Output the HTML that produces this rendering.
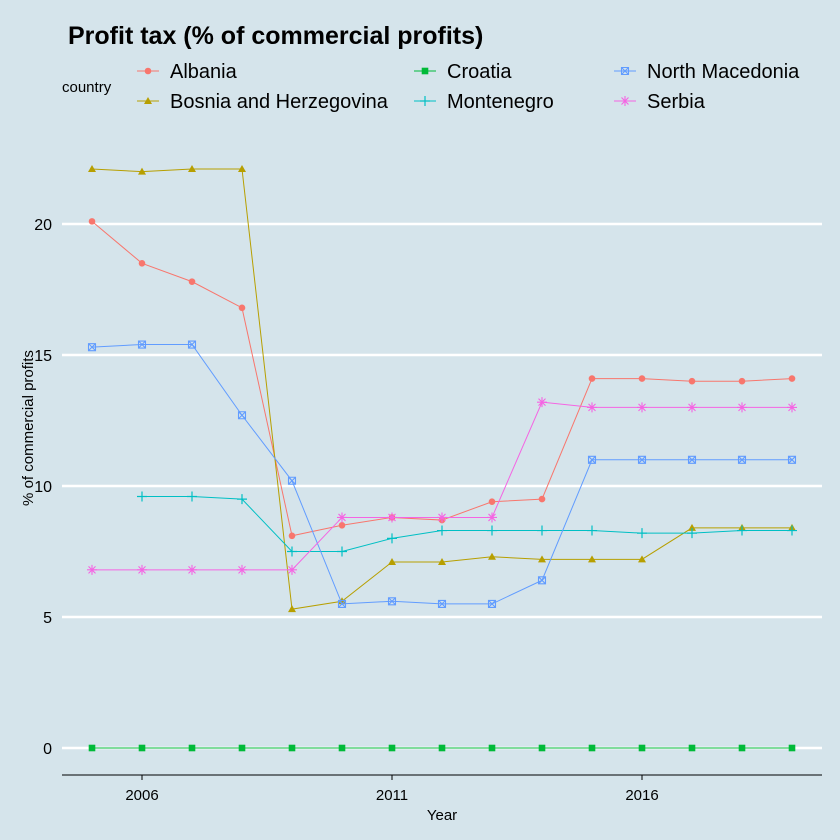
<!DOCTYPE html>
<html><head><meta charset="utf-8"><style>
body{margin:0;background:#d5e4eb;}
svg{display:block;font-family:"Liberation Sans",sans-serif;}
</style></head><body>
<svg id="c" width="840" height="840">
<rect width="840" height="840" fill="#d5e4eb"/>
<text x="68" y="44" font-size="25" font-weight="bold" fill="#000">Profit tax (% of commercial profits)</text>
<g id="legend"><text x="62" y="92" font-size="15">country</text></g>
<g id="grid"></g>
<g id="series"></g>
<line x1="62" y1="775" x2="822" y2="775" stroke="#000" stroke-width="1"/>
<g id="axes"></g>
<text x="442" y="820" font-size="15" text-anchor="middle">Year</text>
<text transform="translate(33,428) rotate(-90)" font-size="15" text-anchor="middle">% of commercial profits</text>
</svg>
<script>
const years=[2005,2006,2007,2008,2009,2010,2011,2012,2013,2014,2015,2016,2017,2018,2019];
const albania=[20.1,18.5,17.8,16.8,8.1,8.5,8.8,8.7,9.4,9.5,14.1,14.1,14.0,14.0,14.1];
const bosnia=[22.1,22.0,22.1,22.1,5.3,5.6,7.1,7.1,7.3,7.2,7.2,7.2,8.4,8.4,8.4];
const croatia=[0,0,0,0,0,0,0,0,0,0,0,0,0,0,0];
const montenegro=[null,9.6,9.6,9.5,7.5,7.5,8.0,8.3,8.3,8.3,8.3,8.2,8.2,8.3,8.3];
const macedonia=[15.3,15.4,15.4,12.7,10.2,5.5,5.6,5.5,5.5,6.4,11.0,11.0,11.0,11.0,11.0];
const serbia=[6.8,6.8,6.8,6.8,6.8,8.8,8.8,8.8,8.8,13.2,13.0,13.0,13.0,13.0,13.0];
const yTicks=[0,5,10,15,20];
const xTicks=[2006,2011,2016];
const names=["Albania","Bosnia and Herzegovina","Croatia","Montenegro","North Macedonia","Serbia"];

const NS="http://www.w3.org/2000/svg";
const X=v=>142+(v-2006)*50;
const Y=v=>748-v*26.2;
function mk(t,a,p){const e=document.createElementNS(NS,t);for(const k in a)e.setAttribute(k,a[k]);p.appendChild(e);return e;}
const grid=document.getElementById('grid'),axes=document.getElementById('axes'),ser=document.getElementById('series'),leg=document.getElementById('legend');
yTicks.forEach(v=>{
 const l=mk('line',{x1:62,x2:822,y1:Y(v),y2:Y(v),stroke:'#fff','stroke-width':2.5},grid);
 
 
 const t=mk('text',{x:52,y:Y(v)+6,'font-size':16,'text-anchor':'end'},axes);t.textContent=v;
 
 
});
xTicks.forEach(v=>{
 const l=mk('line',{x1:X(v),x2:X(v),y1:775,y2:780,stroke:'#000'},axes);
 
 
 const t=mk('text',{x:X(v),y:800,'font-size':15,'text-anchor':'middle'},axes);t.textContent=v;
 
 
});
function marker(shape,x,y,c,p){
 if(shape==0)return mk('circle',{cx:x,cy:y,r:3.3,fill:c},p);
 if(shape==1)return mk('path',{d:`M${x},${y-4}L${x+4},${y+3}L${x-4},${y+3}Z`,fill:c},p);
 if(shape==2)return mk('rect',{x:x-3.3,y:y-3.3,width:6.6,height:6.6,fill:c},p);
 if(shape==3)return mk('path',{d:`M${x-5},${y}H${x+5}M${x},${y-5}V${y+5}`,stroke:c,'stroke-width':1.2,fill:'none'},p);
 if(shape==4)return mk('path',{d:`M${x-3.5},${y-3.5}h7v7h-7zM${x-3.5},${y-3.5}l7,7M${x+3.5},${y-3.5}l-7,7`,stroke:c,'stroke-width':1.1,fill:'none'},p);
 return mk('path',{d:`M${x-5},${y}H${x+5}M${x},${y-5}V${y+5}M${x-3.5},${y-3.5}l7,7M${x+3.5},${y-3.5}l-7,7`,stroke:c,'stroke-width':1.1,fill:'none'},p);
}
const data=[albania,bosnia,croatia,montenegro,macedonia,serbia];
const cols=["#F8766D","#B79F00","#00BA38","#00BFC4","#619CFF","#F564E3"];
data.forEach((arr,i)=>{
 const g=mk('g',{},ser);
 
 
 let d='';arr.forEach((v,j)=>{if(v==null)return;d+=(d?'L':'M')+X(years[j])+','+Y(v);});
 mk('path',{d:d,fill:'none',stroke:cols[i],'stroke-width':1},g);
 arr.forEach((v,j)=>{if(v==null)return;const m=marker(i,X(years[j]),Y(v),cols[i],g);
  
  });
});
const lx=[148,148,425,425,625,625],ly=[71,101,71,101,71,101];
names.forEach((n,i)=>{
 const g=mk('g',{},leg);
 
 
 mk('line',{x1:lx[i]-11,x2:lx[i]+11,y1:ly[i],y2:ly[i],stroke:cols[i]},g);
 marker(i,lx[i],ly[i],cols[i],g);
 const t=mk('text',{x:lx[i]+22,y:ly[i]+7,'font-size':20},g);t.textContent=n;
});
</script>
</body></html>
